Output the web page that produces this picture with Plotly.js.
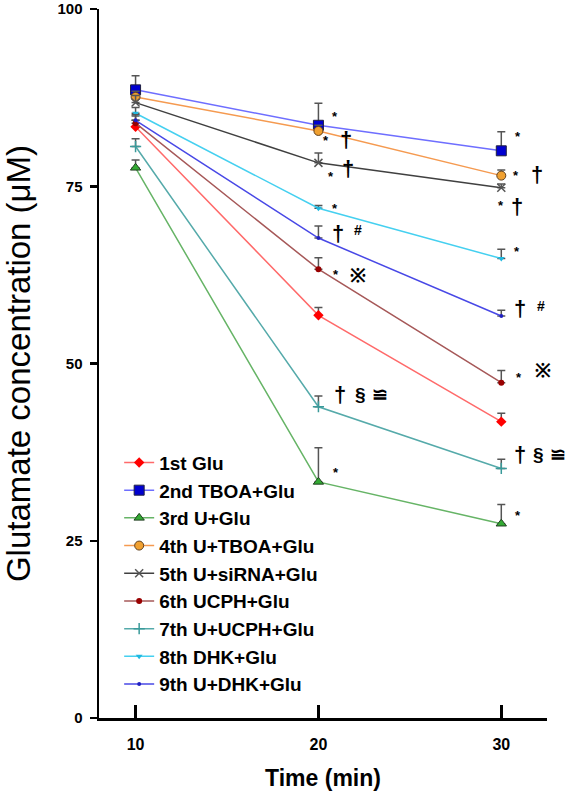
<!DOCTYPE html>
<html>
<head>
<meta charset="utf-8">
<script src="https://cdn.plot.ly/plotly-3.0.1.min.js"></script>
<style>html,body{margin:0;padding:0;background:#fff;}#chart{width:566px;height:798px;}</style>
</head>
<body>
<div id="chart"></div>
<script>
// ---- data ----
const times = [10, 20, 30];
const seriesNames = ["1st Glu", "2nd TBOA+Glu", "3rd U+Glu", "4th U+TBOA+Glu", "5th U+siRNA+Glu",
  "6th UCPH+Glu", "7th U+UCPH+Glu", "8th DHK+Glu", "9th U+DHK+Glu"];
const glu1 = [83.4, 56.8, 41.8];
const glu2 = [88.6, 83.6, 80.0];
const glu3 = [77.6, 33.3, 27.4];
const glu4 = [87.6, 82.8, 76.5];
const glu5 = [86.8, 78.3, 74.8];
const glu6 = [83.9, 63.3, 47.3];
const glu7 = [80.6, 43.9, 35.2];
const glu8 = [85.3, 71.9, 64.8];
const glu9 = [84.3, 67.7, 56.7];
const sem1 = [0.9, 1.1, 1.2];
const sem2 = [2.0, 3.1, 2.7];
const sem3 = [1.1, 4.8, 2.7];
const sem4 = [0.8, 0.8, 0.8];
const sem5 = [1.0, 1.4, 0.5];
const sem6 = [1.0, 1.6, 1.7];
const sem7 = [1.1, 1.5, 1.3];
const sem8 = [0.8, 0.4, 1.3];
const sem9 = [0.8, 1.7, 0.8];
const yTicks = [0, 25, 50, 75, 100];
const xTicks = [10, 20, 30];
// significance marks: [series index, time index, symbol]
const sigSeries = [1,3,3,4,4,7,8,8,5,5,6,6,6,2, 1,3,3,4,4,7,8,8,5,5,6,6,6,2];
const sigTime   = [1,1,1,1,1,1,1,1,1,1,1,1,1,1, 2,2,2,2,2,2,2,2,2,2,2,2,2,2];
const sigText   = ["*","*","†","*","†","*","†","#","*","※","†","§","≌","*",
                   "*","*","†","*","†","*","†","#","*","※","†","§","≌","*"];

const values = [glu1, glu2, glu3, glu4, glu5, glu6, glu7, glu8, glu9];
const sems = [sem1, sem2, sem3, sem4, sem5, sem6, sem7, sem8, sem9];

// ---- styles ----
const lineColors = ["#ff6a6a", "#6e6eff", "#66b466", "#f59a50", "#404040", "#a65858", "#55aaaa", "#45d0f0", "#4848e6"];
const markers = [
  {symbol: "diamond", size: 8, color: "#ff0000", line: {width: 0}},
  {symbol: "square", size: 10, color: "#0000d0", line: {width: 1, color: "#202040"}},
  {symbol: "triangle-up", size: 9, color: "#33aa33", line: {width: 1, color: "#204020"}},
  {symbol: "circle", size: 9, color: "#f0a030", line: {width: 1, color: "#604020"}},
  {symbol: "x-thin", size: 8, color: "#555555", line: {width: 1.5, color: "#555555"}},
  {symbol: "circle", size: 6, color: "#990000", line: {width: 0}},
  {symbol: "cross-thin", size: 8, color: "#3a9a9a", line: {width: 1.5, color: "#3a9a9a"}},
  {symbol: "triangle-down", size: 6, color: "#20b8e0", line: {width: 0}},
  {symbol: "circle", size: 4, color: "#2020c0", line: {width: 0}}
];

const traces = values.map((v, i) => ({
  type: "scatter", mode: "lines+markers",
  x: times, y: v, name: seriesNames[i], legendgroup: "g" + i,
  line: {color: lineColors[i], width: 1.5},
  marker: markers[i],
  error_y: {type: "data", symmetric: false, array: sems[i], arrayminus: [0, 0, 0],
            color: "#555555", thickness: 1.5, width: 4}
}));

// annotation pixel offsets (layout only)
const offs = [
  [17,-12],[8,7],[28,9],[13,11],[30,6],[17,-3],[20,-5],[40,-8],[18,2],[40,6],[22,-12],[42,-12],[62,-12],[18,-12],
  [17,-17],[15,-3],[36,-1],[0,15],[16,19],[16,-10],[19,-8],[40,-10],[18,-8],[42,-12],[19,-14],[37,-14],[57,-14],[17,-11]
];
const annotations = sigText.map((t, k) => {
  const s = sigSeries[k], ti = sigTime[k];
  const isStar = t === "*";
  const sz = isStar ? 13 : (t === "#" ? 14 : (t === "†" ? 22 : 19));
  return {
    x: times[ti], y: values[s][ti], xref: "x", yref: "y",
    text: t, showarrow: false,
    xshift: offs[k][0], yshift: -offs[k][1] - (isStar ? 3 : 0),
    font: {family: "Arial, 'Liberation Sans', sans-serif", size: sz, color: "#000", weight: "bold"}
  };
});

const layout = {
  width: 566, height: 798,
  margin: {l: 99, r: 19, t: 9, b: 80},
  paper_bgcolor: "#fff", plot_bgcolor: "#fff",
  font: {family: "Arial, 'Liberation Sans', sans-serif", color: "#000"},
  showlegend: true,
  legend: {x: 0.045, y: 0.387, xanchor: "left", yanchor: "top",
           font: {size: 19, weight: "bold", color: "#000"},
           itemwidth: 30,
           bgcolor: "rgba(0,0,0,0)", tracegroupgap: 0, traceorder: "grouped"},
  xaxis: {
    range: [8, 32.5], tickvals: xTicks, ticktext: xTicks.map(String),
    showline: true, linewidth: 2.5, linecolor: "#000", showgrid: false, zeroline: false,
    ticks: "inside", ticklen: 13, tickwidth: 2.5, tickcolor: "#000",
    ticklabelstandoff: 10,
    tickfont: {size: 16, weight: "bold"},
    title: {text: "Time (min)", font: {size: 23, weight: "bold"}, standoff: 18}
  },
  yaxis: {
    range: [0, 100], tickvals: yTicks, ticktext: yTicks.map(String),
    showline: true, linewidth: 2.5, linecolor: "#000", showgrid: false, zeroline: false,
    ticks: "outside", ticklen: 7, tickwidth: 2.5, tickcolor: "#000",
    ticklabelstandoff: 4, ticklabeloverflow: "allow",
    tickfont: {size: 15, weight: "bold"},
    title: {text: "Glutamate concentration (μM)", font: {size: 33}, standoff: 26}
  },
  annotations: annotations
};

Plotly.newPlot("chart", traces, layout, {displayModeBar: false, staticPlot: true});
</script>
</body>
</html>
